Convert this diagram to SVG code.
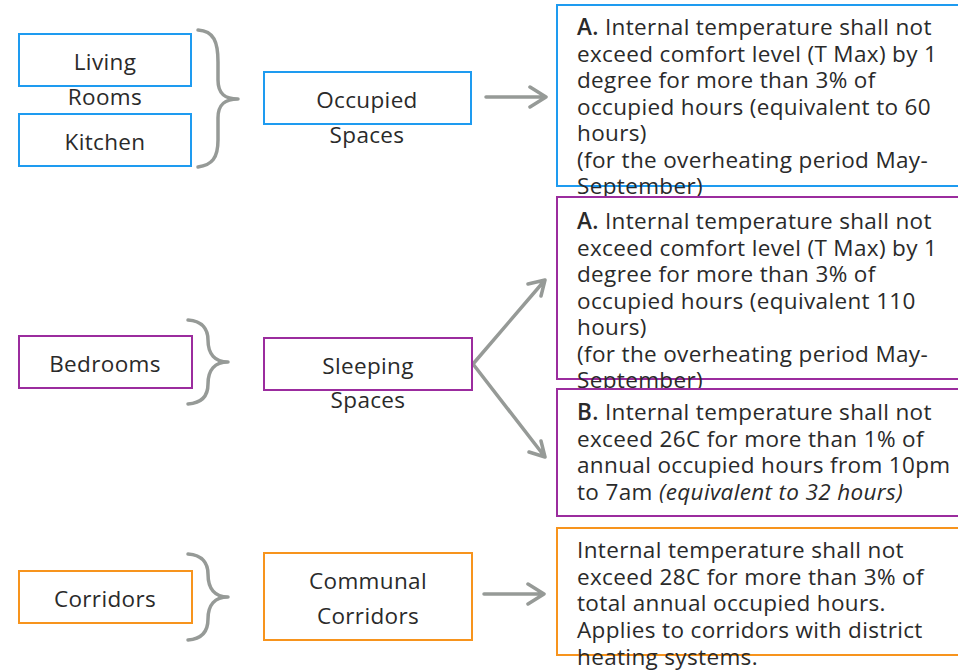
<svg xmlns="http://www.w3.org/2000/svg" width="958" height="670" viewBox="0 0 958 670">
<style>
text{font-family:"Open Sans","Noto Sans",sans-serif;font-size:22.5px;letter-spacing:0.35px;fill:#2a2a2a}
.c{text-anchor:middle}
.b{font-weight:600}
.i{font-style:italic}
.blue{fill:#fff;stroke:#1E9BF0;stroke-width:2}
.pur{fill:#fff;stroke:#9B2C9E;stroke-width:2}
.org{fill:#fff;stroke:#F7941D;stroke-width:2}
.con{fill:none;stroke:#969a97;stroke-width:3.5;stroke-linecap:round;stroke-linejoin:round}
</style>
<rect width="958" height="670" fill="#fff"/>
<g id="connectors">
<path class="con" d="M198,30 C214,31 218,42 218,62 L218,80 C218,94 225,99 238,99 C225,99 218,104 218,118 L218,140 C218,158 212,165 198,167"/>
<path class="con" d="M188,320 C203,321 208,330 208,340 C208,354 215,362 228,362 C215,362 208,370 208,384 C208,396 202,403 188,404"/>
<path class="con" d="M188,554 C203,555 208,564 208,574 C208,589 215,597 228,597 C215,597 208,605 208,619 C208,631 202,639 188,640"/>
<path class="con" d="M486,97 L546,97 M530,87 L546,97 L530,107"/>
<path class="con" d="M473,364 L545,280 M528,284 L545,280 L541,296"/>
<path class="con" d="M473,364 L545,457 M541,441 L545,457 L529,452"/>
<path class="con" d="M484,594 L544,594 M528,584 L544,594 L528,604"/>
</g>
<g id="living"><rect class="blue" x="19" y="34" width="172" height="52"/><text class="c" x="105" y="70">Living</text><text class="c" x="105" y="105">Rooms</text></g>
<g id="kitchen"><rect class="blue" x="19" y="114" width="172" height="52"/><text class="c" x="105" y="150">Kitchen</text></g>
<g id="occupied"><rect class="blue" x="264" y="72" width="207" height="52"/><text class="c" x="367" y="108">Occupied</text><text class="c" x="367" y="143">Spaces</text></g>
<g id="critA1"><rect class="blue" x="557" y="5" width="410" height="181"/>
<text x="577" y="35"><tspan class="b">A.</tspan> Internal temperature shall not</text>
<text x="577" y="62">exceed comfort level (T Max) by 1</text>
<text x="577" y="88">degree for more than 3% of</text>
<text x="577" y="115">occupied hours (equivalent to 60</text>
<text x="577" y="141">hours)</text>
<text x="577" y="168">(for the overheating period May-</text>
<text x="577" y="194">September)</text></g>
<g id="bedrooms"><rect class="pur" x="19" y="336" width="173" height="52"/><text class="c" x="105" y="372">Bedrooms</text></g>
<g id="sleeping"><rect class="pur" x="264" y="338" width="208" height="52"/><text class="c" x="368" y="374">Sleeping</text><text class="c" x="368" y="408">Spaces</text></g>
<g id="critA2"><rect class="pur" x="557" y="197" width="410" height="182"/>
<text x="577" y="229"><tspan class="b">A.</tspan> Internal temperature shall not</text>
<text x="577" y="256">exceed comfort level (T Max) by 1</text>
<text x="577" y="282">degree for more than 3% of</text>
<text x="577" y="309">occupied hours (equivalent 110</text>
<text x="577" y="335">hours)</text>
<text x="577" y="362">(for the overheating period May-</text>
<text x="577" y="388">September)</text></g>
<g id="critB"><rect class="pur" x="557" y="389" width="410" height="127"/>
<text x="577" y="420"><tspan class="b">B.</tspan> Internal temperature shall not</text>
<text x="577" y="447">exceed 26C for more than 1% of</text>
<text x="577" y="473">annual occupied hours from 10pm</text>
<text x="577" y="500">to 7am <tspan class="i">(equivalent to 32 hours)</tspan></text></g>
<g id="corridors"><rect class="org" x="19" y="571" width="173" height="52"/><text class="c" x="105" y="607">Corridors</text></g>
<g id="communal"><rect class="org" x="264" y="553" width="208" height="87"/><text class="c" x="368" y="589">Communal</text><text class="c" x="368" y="624">Corridors</text></g>
<g id="critC"><rect class="org" x="557" y="528" width="410" height="127"/>
<text x="577" y="558">Internal temperature shall not</text>
<text x="577" y="585">exceed 28C for more than 3% of</text>
<text x="577" y="611">total annual occupied hours.</text>
<text x="577" y="638">Applies to corridors with district</text>
<text x="577" y="665">heating systems.</text></g>
</svg>
